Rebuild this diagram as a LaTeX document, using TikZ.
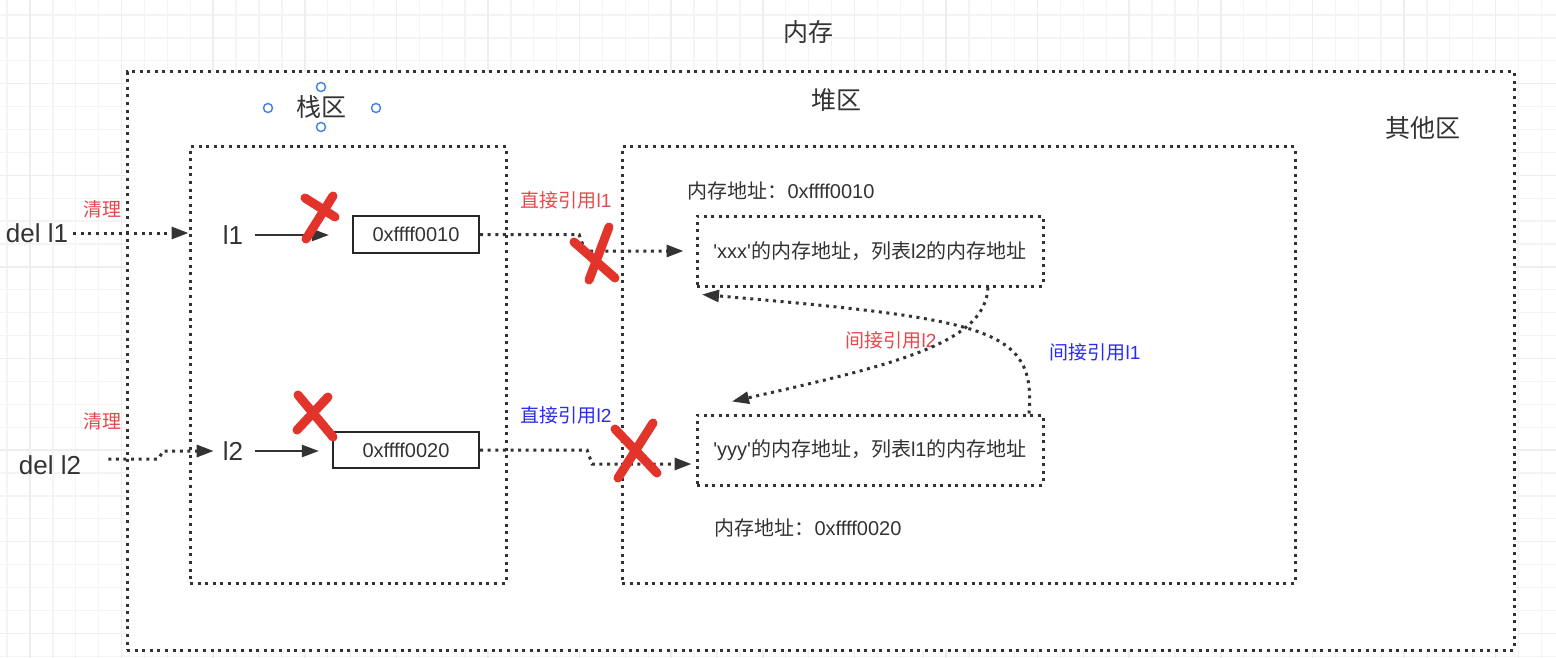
\documentclass[tikz,border=0pt]{standalone}
\usepackage{fontspec}
\setmainfont{Liberation Sans}
\newfontfamily\cjk{Noto Sans CJK SC}
\usetikzlibrary{arrows.meta}
\definecolor{txt}{HTML}{333333}
\definecolor{lred}{HTML}{E5484D}
\definecolor{lblue}{HTML}{2B2BF0}
\definecolor{xred}{HTML}{E3342B}
\definecolor{gridminor}{HTML}{F4F4F4}
\definecolor{gridmajor}{HTML}{EEEEEE}
\definecolor{handle}{HTML}{4A86E8}
\begin{document}
\begin{tikzpicture}[x=1pt,y=-1pt,
  dotln/.style={draw=txt, line width=3pt, dash pattern=on 3pt off 4.6pt},
  dotbox/.style={dotln, inner sep=0pt},
  dotarrow/.style={dotln, -{Triangle[length=17pt,width=12pt]}},
  solarrow/.style={draw=txt, line width=2.3pt, -{Triangle[length=17pt,width=12pt]}},
  addrbox/.style={draw=black!85, line width=2.2pt, inner sep=0pt, text=txt, font=\fontsize{20}{24}\selectfont},
  title/.style={font=\fontsize{25}{30}\selectfont\cjk, text=txt, inner sep=0pt},
  var/.style={font=\fontsize{26}{30}\selectfont, text=txt, inner sep=0pt},
  lab/.style={font=\fontsize{19}{22}\selectfont, inner sep=0pt},
  addr/.style={font=\fontsize{20}{24}\selectfont, text=txt, inner sep=0pt},
  xmark/.style={draw=xred, line width=9pt, line cap=round},
  hdl/.style={draw=handle, line width=1.5pt, fill=white}
]
\useasboundingbox (0,0) rectangle (1556,658);
% grid background
\begin{scope}
\clip (0,0) rectangle (1556,658);
\fill[white] (0,0) rectangle (1556,658);
\foreach \k in {-1,...,67} \draw[gridminor, line width=1.3pt] ({30+22.9*\k},0) -- ({30+22.9*\k},658);
\foreach \k in {-1,...,28} \draw[gridminor, line width=1.3pt] (0,{15+22.9*\k}) -- (1556,{15+22.9*\k});
\foreach \m in {0,...,16} \draw[gridmajor, line width=1.5pt] ({30+91.6*\m},0) -- ({30+91.6*\m},658);
\foreach \m in {0,...,6} \draw[gridmajor, line width=1.5pt] (0,{83.7+91.6*\m}) -- (1556,{83.7+91.6*\m});
\end{scope}

% containers
\node[dotbox, fill=white, minimum width=1387, minimum height=578] (mem) at (820.5,361) {};
\node[dotbox, minimum width=316, minimum height=436] (stack) at (348,365) {};
\node[dotbox, minimum width=673, minimum height=436] (heap) at (958.5,365) {};

% titles
\node[title] (memlbl) at (808,32) {内存};
\node[title] (stacklbl) at (321,107) {栈区};
\node[title] (heaplbl) at (836,100) {堆区};
\node[title] (otherlbl) at (1423,128) {其他区};

% selection handles
\foreach \p in {(268,108),(376,108),(321,87),(321,127)} \draw[hdl] \p circle (4.5);

% variables
\node[var] (del1) at (37,233) {del l1};
\node[var] (del2) at (50,465) {del l2};
\node[var] (l1) at (233,235) {l1};
\node[var] (l2) at (233,451) {l2};

\node[addrbox, minimum width=126, minimum height=37] (box1) at (416,234.5) {0xffff0010};
\node[addrbox, minimum width=146, minimum height=36] (box2) at (406,450) {0xffff0020};

% heap objects
\node[addr] (addr1) at (781,191) {{\cjk 内存地址：}0xffff0010};
\node[addr] (addr2) at (808,528) {{\cjk 内存地址：}0xffff0020};
\node[dotbox, minimum width=346, minimum height=70, addr] (xxx) at (870,251) {\textquotesingle xxx\textquotesingle{\cjk 的内存地址，列表}l2{\cjk 的内存地址}};
\node[dotbox, minimum width=346, minimum height=70, addr] (yyy) at (870,450) {\textquotesingle yyy\textquotesingle{\cjk 的内存地址，列表}l1{\cjk 的内存地址}};

% labels
\node[lab, text=lred] (clean1) at (102,209) {\cjk 清理};
\node[lab, text=lred] (clean2) at (102,421) {\cjk 清理};
\node[lab, text=lred] (dref1) at (566,200) {{\cjk 直接引用}l1};
\node[lab, text=lblue] (dref2) at (566,415) {{\cjk 直接引用}l2};
\node[lab, text=lred] (iref2) at (891,340) {{\cjk 间接引用}l2};
\node[lab, text=lblue] (iref1) at (1095,352) {{\cjk 间接引用}l1};

% connectors
\draw[dotarrow, shorten <=5pt] (del1.east) -- (del1.east -| stack.west);
\draw[dotarrow, shorten >=9pt] ([xshift=27pt,yshift=6pt]del2.east) -- ++(50,0) -- ++(5,-8) -- (l2.west);
\draw[solarrow, shorten <=12pt, shorten >=23pt] (l1.east) -- (l1.east -| box1.west);
\draw[solarrow, shorten <=12pt, shorten >=13pt] (l2.east) -- (l2.east -| box2.west);
\draw[dotarrow, shorten >=12pt] (box1.east) -- ++(99,0) -- ++(6,16.5) -- (xxx.west);
\draw[dotarrow, shorten >=4pt] (box2.east) -- ++(107,0) -- ++(5,14) -- ([yshift=-14pt]yyy.west);
\draw[dotarrow] ([xshift=118pt]xxx.south) .. controls +(-3,55) and +(168,-38) .. ([xshift=-138pt,yshift=12pt]yyy.north);
\draw[dotarrow] ([xshift=159pt]yyy.north) .. controls +(7,-85) and +(288,25) .. ([xshift=-168pt,yshift=-7pt]xxx.south);

% red crosses
\draw[xmark] (333,196) -- (306,239) (305,198) -- (335,217);
\draw[xmark] (298,395) -- (333,437) (328,397) -- (297,430);
\draw[xmark] (609,227) -- (589,280) (574,242) -- (615,278);
\draw[xmark] (653,423) -- (618,478) (615,429) -- (657,473);
\end{tikzpicture}
\end{document}
